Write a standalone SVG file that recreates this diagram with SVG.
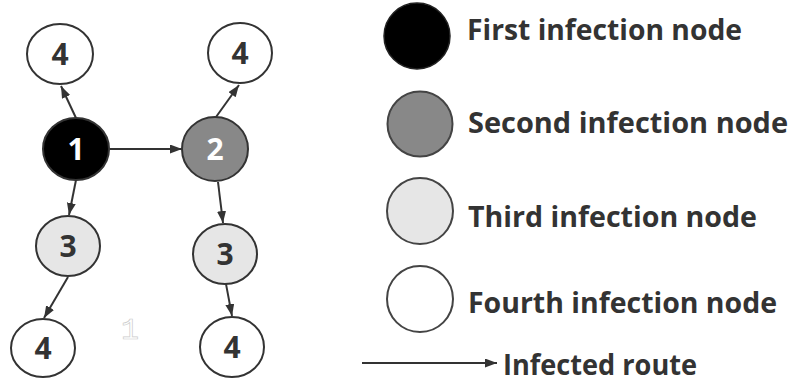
<svg xmlns="http://www.w3.org/2000/svg" width="793" height="392" viewBox="0 0 793 392">
<defs>
<marker id="arr" markerUnits="userSpaceOnUse" markerWidth="13" markerHeight="10" refX="12" refY="4.5" orient="auto">
<path d="M0,0 L12,4.5 L0,9 z" fill="#333"/>
</marker>
<style>
.n{stroke:#333;stroke-width:2}
.d{font-family:"Open Sans","Liberation Sans",sans-serif;font-weight:bold;font-size:30px;text-anchor:middle;fill:#333}
.w{fill:#fff}
.l{font-family:"Open Sans","Liberation Sans",sans-serif;font-weight:bold;font-size:29px;fill:#333}
.e{stroke:#333;stroke-width:2;fill:none;marker-end:url(#arr)}
</style>
</defs>
<rect width="793" height="392" fill="#fff"/>
<g id="connectors">
<line class="e" x1="76" y1="118" x2="61" y2="86"/>
<line class="e" x1="110" y1="149" x2="182" y2="149"/>
<line class="e" x1="216" y1="117" x2="239" y2="85"/>
<line class="e" x1="76" y1="180" x2="69" y2="215"/>
<line class="e" x1="218" y1="182" x2="223" y2="223"/>
<line class="e" x1="68" y1="277" x2="44" y2="318"/>
<line class="e" x1="226" y1="284" x2="232" y2="316"/>
</g>
<g id="n1"><ellipse class="n" cx="76" cy="149" rx="33" ry="31" fill="#000" stroke="#111"/><text class="d w" x="76" y="160">1</text></g>
<g id="n2"><ellipse class="n" cx="215" cy="149" rx="33" ry="32" fill="#888" stroke="#444"/><text class="d w" x="215" y="160">2</text></g>
<g id="n4a"><ellipse class="n" cx="60" cy="54" rx="33" ry="30" fill="#fff"/><text class="d" x="60" y="65">4</text></g>
<g id="n4b"><ellipse class="n" cx="240" cy="53" rx="32" ry="30" fill="#fff"/><text class="d" x="240" y="64">4</text></g>
<g id="n3a"><ellipse class="n" cx="68" cy="246" rx="32" ry="30" fill="#e6e6e6"/><text class="d" x="68" y="257">3</text></g>
<g id="n3b"><ellipse class="n" cx="225" cy="254" rx="32" ry="30" fill="#e6e6e6"/><text class="d" x="225" y="265">3</text></g>
<g id="n4c"><ellipse class="n" cx="43" cy="348" rx="32" ry="29" fill="#fff"/><text class="d" x="43" y="359">4</text></g>
<g id="n4d"><ellipse class="n" cx="232" cy="347" rx="32" ry="30" fill="#fff"/><text class="d" x="232" y="358">4</text></g>
<text x="130" y="339" font-family="Liberation Mono, monospace" font-size="30" text-anchor="middle" fill="#fff" stroke="#ccc" stroke-width="0.7">1</text>
<g id="legend">
<circle cx="417" cy="36" r="33" fill="#000" stroke="#222" stroke-width="1.5"/>
<text class="l" x="467" y="40" textLength="275" lengthAdjust="spacingAndGlyphs">First infection node</text>
<circle cx="420" cy="124" r="32.5" fill="#888" stroke="#444" stroke-width="2"/>
<text class="l" x="468" y="133" textLength="320" lengthAdjust="spacingAndGlyphs">Second infection node</text>
<circle cx="420" cy="211" r="33" fill="#e6e6e6" stroke="#444" stroke-width="2"/>
<text class="l" x="468" y="227" textLength="289" lengthAdjust="spacingAndGlyphs">Third infection node</text>
<circle cx="420" cy="299" r="33" fill="#fff" stroke="#444" stroke-width="2"/>
<text class="l" x="468" y="313" textLength="309" lengthAdjust="spacingAndGlyphs">Fourth infection node</text>
<line class="e" x1="362" y1="363" x2="497" y2="363" stroke-width="1.5"/>
<text class="l" x="503" y="375" textLength="194" lengthAdjust="spacingAndGlyphs">Infected route</text>
</g>
</svg>
